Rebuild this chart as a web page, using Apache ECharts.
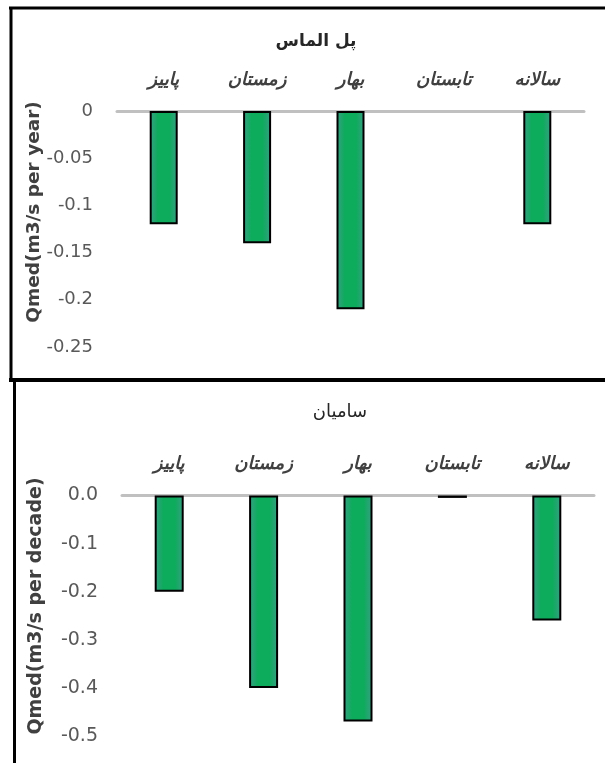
<!DOCTYPE html>
<html><head><meta charset="utf-8">
<script src="https://cdn.jsdelivr.net/npm/echarts@6/dist/echarts.min.js"></script>
<style>html,body{margin:0;padding:0;background:#fff}#c{width:605px;height:763px}</style>
</head><body><div id="c"></div>
<script>
const categories = ['پاییز','زمستان','بهار','تابستان','سالانه'];
const topTitle = 'پل الماس';
const bottomTitle = 'سامیان';
const topValues = [-0.12, -0.14, -0.21, null, -0.12];
const bottomValues = [-0.2, -0.4, -0.47, -0.005, -0.26];
const topTicks = {min: -0.25, max: 0, interval: 0.05};
const bottomTicks = {min: -0.5, max: 0, interval: 0.1};
const topAxisName = 'Qmed(m3/s per year)';
const bottomAxisName = 'Qmed(m3/s per decade)';

const barFill = new echarts.graphic.LinearGradient(0,0,1,0,[
  {offset:0,color:'#3a9f86'},{offset:0.3,color:'#0dab5c'},{offset:0.7,color:'#0dab5c'},{offset:1,color:'#3a9f86'}]);
const arabicFont = 'DejaVu Sans';
const numFont = '"DejaVu Sans", sans-serif';

function xAx(gi){
  return {type:'category', gridIndex:gi, position:'top', data:categories,
    axisLine:{onZero:false, lineStyle:{color:'#c0c0c0', width:3}},
    axisTick:{show:false},
    axisLabel:{margin:22, fontFamily:arabicFont, fontStyle:'italic', fontWeight:'bold', fontSize:18, color:'#404040'}};
}
function yAx(gi, t, dec, fs){
  return {type:'value', gridIndex:gi, min:t.min, max:t.max, interval:t.interval,
    axisLine:{show:false}, axisTick:{show:false}, splitLine:{show:false},
    axisLabel:{margin:24, fontFamily:numFont, fontSize:fs, color:'#595959',
      formatter: v => dec ? v.toFixed(1) : String(Math.round(v*100)/100)}};
}
function vText(txt, x, y, fs){
  return {type:'text', x:x, y:y, rotation:Math.PI/2, z:50,
    style:{text:txt, font:'bold '+fs+'px "DejaVu Sans"', fill:'#404040', align:'center', verticalAlign:'middle'}};
}
function hText(txt, x, y, fs, weight){
  return {type:'text', x:x, y:y, z:50,
    style:{text:txt, font:weight+' '+fs+'px "DejaVu Sans"', fill:'#262626', align:'center', verticalAlign:'middle'}};
}
const chart = echarts.init(document.getElementById('c'));
chart.setOption({
  animation:false,
  grid:[
    {left:117, width:467, top:111, height:236},
    {left:122, width:472, top:495.5, height:240.5}
  ],
  xAxis:[xAx(0), xAx(1)],
  yAxis:[yAx(0, topTicks, false, 18), yAx(1, bottomTicks, true, 19)],
  series:[
    {type:'bar', xAxisIndex:0, yAxisIndex:0, data:topValues, barWidth:28,
      itemStyle:{color:barFill, borderColor:'#000', borderWidth:2}},
    {type:'bar', xAxisIndex:1, yAxisIndex:1, data:bottomValues, barWidth:29,
      itemStyle:{color:barFill, borderColor:'#000', borderWidth:2}}
  ],
  graphic:[
    hText(topTitle, 316, 42, 17, 'bold'),
    hText(bottomTitle, 340, 412, 18, 'normal'),
    vText(topAxisName, 34, 212, 18.5),
    vText(bottomAxisName, 36, 606, 19),
    {type:'line', shape:{x1:9,y1:8,x2:605,y2:8}, style:{stroke:'#000', lineWidth:3}, z:100},
    {type:'line', shape:{x1:11,y1:7,x2:11,y2:381}, style:{stroke:'#000', lineWidth:3}, z:100},
    {type:'line', shape:{x1:9,y1:380,x2:605,y2:380}, style:{stroke:'#000', lineWidth:4}, z:100},
    {type:'line', shape:{x1:14.5,y1:380,x2:14.5,y2:763}, style:{stroke:'#000', lineWidth:3}, z:100}
  ]
});
</script></body></html>
